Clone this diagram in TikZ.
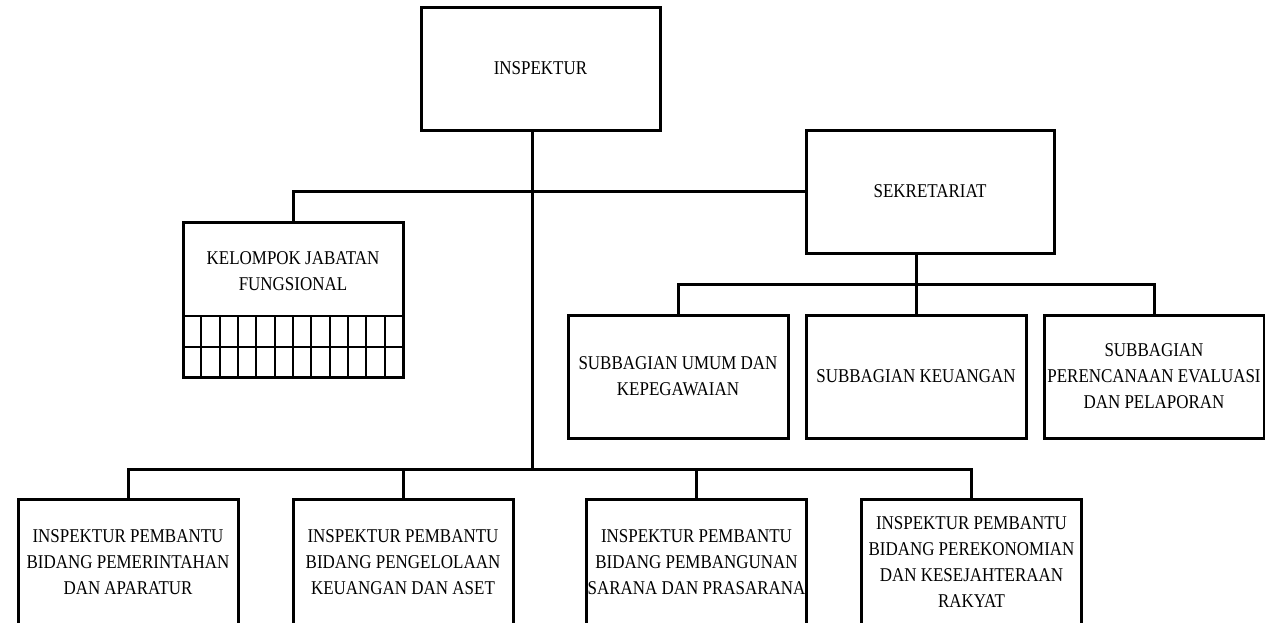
\documentclass[tikz,border=0pt]{standalone}
\usepackage{fontspec}
\setmainfont{Liberation Serif}[FakeStretch=0.87]
\tikzset{
  unitbox/.style={draw, line width=3pt, minimum width=220pt, minimum height=123pt,
    inner sep=0pt, align=center, font=\fontsize{19.5}{26}\selectfont},
  link/.style={line width=3pt},
  cell/.style={line width=1.8pt}
}
\begin{document}
\begin{tikzpicture}[x=1pt,y=-1pt]
\useasboundingbox (0,0) rectangle (1265,622);
\node[unitbox, minimum width=239pt] (insp) at (540.5,68.5) {INSPEKTUR};
\node[unitbox, minimum width=248pt] (sek) at (930,191.5) {SEKRETARIAT};
\node[unitbox, minimum height=155pt] (kel) at (293,299.5) {};
\node[font=\fontsize{19.5}{26}\selectfont, align=center] (keltext) at (293,271) {KELOMPOK JABATAN\\FUNGSIONAL};
\node[unitbox] (sub1) at (678,376.5) {SUBBAGIAN UMUM DAN\\KEPEGAWAIAN};
\node[unitbox] (sub2) at (916,376.5) {SUBBAGIAN KEUANGAN};
\node[unitbox] (sub3) at (1154,376.5) {SUBBAGIAN\\PERENCANAAN EVALUASI\\DAN PELAPORAN};
\node[unitbox, minimum height=126pt] (irb1) at (128,562) {INSPEKTUR PEMBANTU\\BIDANG PEMERINTAHAN\\DAN APARATUR};
\node[unitbox, minimum height=126pt] (irb2) at (403,562) {INSPEKTUR PEMBANTU\\BIDANG PENGELOLAAN\\KEUANGAN DAN ASET};
\node[unitbox, minimum height=126pt] (irb3) at (696.5,562) {INSPEKTUR PEMBANTU\\BIDANG PEMBANGUNAN\\SARANA DAN PRASARANA};
\node[unitbox, minimum height=126pt] (irb4) at (971.5,562) {INSPEKTUR PEMBANTU\\BIDANG PEREKONOMIAN\\DAN KESEJAHTERAAN\\RAKYAT};
% grid of the functional group
\foreach \r in {316,347} \draw[cell] (183,\r) -- (403,\r);
\foreach \c in {1,...,11} \draw[cell] ({183+\c*220/12},316) -- ({183+\c*220/12},377);
% lines
\coordinate (bus) at (532,469);
\coordinate (subbus) at (916,284);
\draw[link] (bus |- insp.south) -- (bus);
\draw[link] (kel.north) |- (sek.west);
\draw[link] (irb1.north) |- (bus) -| (irb4.north);
\draw[link] (irb2.north) -- (irb2.north |- bus) (irb3.north) -- (irb3.north |- bus);
\draw[link] (subbus |- sek.south) -- (sub2.north);
\draw[link] (sub1.north) |- (subbus) -| (sub3.north);
\end{tikzpicture}
\end{document}
